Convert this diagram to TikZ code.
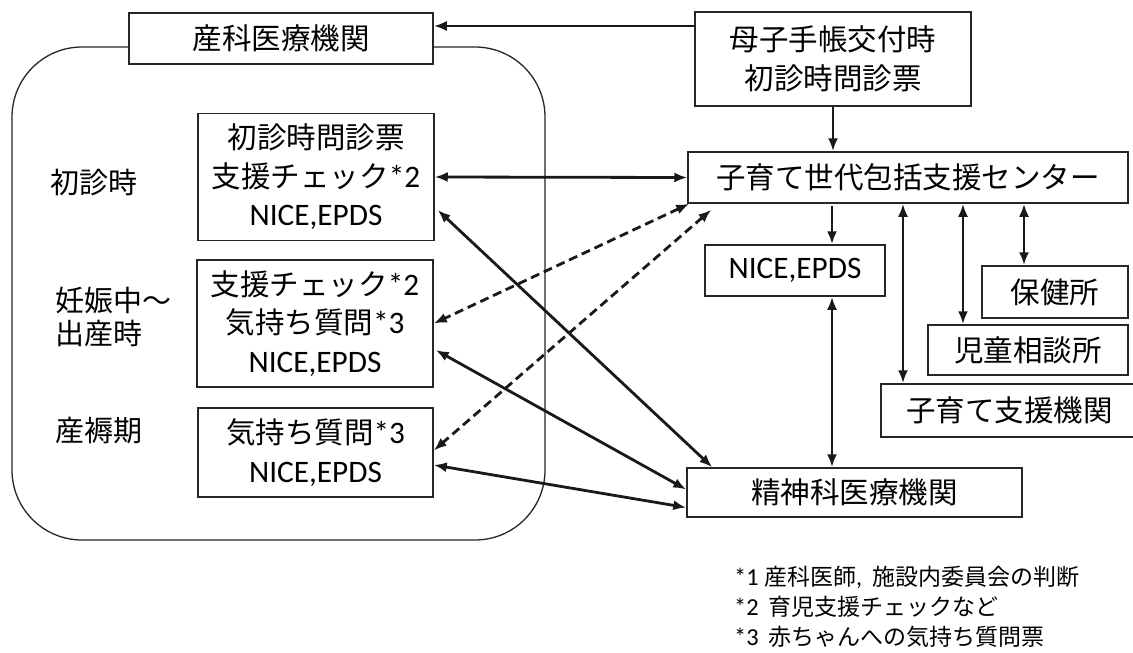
\documentclass[tikz,border=0pt]{standalone}
\usepackage{fontspec}
\setmainfont{Carlito}[Scale=1.06]
\newfontfamily\jp{Noto Sans CJK JP}
\usetikzlibrary{arrows.meta,calc}
\tikzset{
  box/.style={draw=black!85, line width=1.5pt, fill=white, inner sep=0pt, align=center,
    font=\fontsize{29.5}{38.5}\selectfont},
  lbl/.style={inner sep=0pt, align=left, font=\fontsize{29}{33}\selectfont},
  note/.style={inner sep=0pt, align=left, font=\fontsize{23}{30}\selectfont},
  conn/.style={line width=2.8pt, draw=black!90, {Latex[length=13pt,width=10pt]}-{Latex[length=13pt,width=10pt]}},
  oneway/.style={line width=2.8pt, draw=black!90, -{Latex[length=13pt,width=10pt]}},
  dconn/.style={conn, dash pattern=on 9pt off 5pt}
}
\begin{document}
\begin{tikzpicture}[x=1pt,y=-1pt]
\useasboundingbox (0,0) rectangle (1133,653);
\fill[white] (0,0) rectangle (1133,653);
\clip (0,0) rectangle (1133,653);

% obstetric facility region
\draw[line width=1.3pt, black!85, rounded corners=70pt] (12,47) rectangle (545,540);
\node[box, minimum width=304, minimum height=51] (OB) at (281,38.5) {\jp 産科医療機関};

% left boxes
\node[box, minimum width=236, minimum height=127] (A) at (316,177) {{\jp 初診時問診票}\\{\jp 支援チェック}*2\\NICE,EPDS};
\node[box, minimum width=236, minimum height=127] (B) at (315,323.5) {{\jp 支援チェック}*2\\{\jp 気持ち質問}*3\\NICE,EPDS};
\node[box, minimum width=235, minimum height=89] (C) at (315.5,452.5) {{\jp 気持ち質問}*3\\NICE,EPDS};

% period labels
\node[lbl, anchor=west] (L1) at (50,182) {\jp 初診時};
\node[lbl, anchor=west] (L2) at (55,317) {\jp 妊娠中～\\\jp 出産時};
\node[lbl, anchor=west] (L3) at (55,431) {\jp 産褥期};

% right side
\node[box, minimum width=276, minimum height=94] (MC) at (833,59) {{\jp 母子手帳交付時}\\{\jp 初診時問診票}};
\node[box, minimum width=440, minimum height=51] (SC) at (908,177.5) {\jp 子育て世代包括支援センター};
\node[box, minimum width=180, minimum height=51] (NE) at (795,270.5) {NICE,EPDS};
\node[box, minimum width=146, minimum height=52] (HO) at (1055,292) {\jp 保健所};
\node[box, minimum width=200, minimum height=50] (JS) at (1028,350) {\jp 児童相談所};
\node[box, minimum width=257, minimum height=53] (KS) at (1009.5,410.5) {\jp 子育て支援機関};
\node[box, minimum width=335, minimum height=49] (PS) at (854.5,492.5) {\jp 精神科医療機関};

% footnotes
\node[note, anchor=north west] (FN) at (734,566) {*1 {\jp 産科医師},\hspace{0.4em}{\jp 施設内委員会の判断}\\*2\hspace{0.4em}{\jp 育児支援チェックなど}\\*3\hspace{0.4em}{\jp 赤ちゃんへの気持ち質問票}};

% connectors
\draw[oneway] ($(MC.west)+(0,-33)$) -- (OB.east |- {$(MC.west)+(0,-33)$});
\draw[oneway] (MC.south) -- (MC.south |- SC.north);
\draw[conn] (A.east) -- (SC.west);
\draw[conn] ($(A.east)+(3,33)$) -- ($(PS.north west)+(26,0)$);
\draw[dconn] ($(SC.south west)+(2,0)$) -- (B.east);
\draw[dconn] ($(SC.south west)+(24,6)$) -- ($(C.east)+(0,-2)$);
\draw[conn] ($(B.east)+(2,26.5)$) -- ($(PS.west)+(0,-3)$);
\draw[conn] ($(C.east)+(0,12.5)$) -- ($(PS.west)+(0,15)$);

\draw[oneway] (832,206) -- (832,0 |- NE.north);
\draw[conn] (832,0 |- NE.south) -- (832,0 |- PS.north);
\draw[conn] (903,0 |- SC.south) -- (903,0 |- KS.north);
\draw[conn] (963,0 |- SC.south) -- (963,0 |- JS.north);
\draw[conn] (1024,0 |- SC.south) -- (1024,0 |- HO.north);
\end{tikzpicture}
\end{document}
